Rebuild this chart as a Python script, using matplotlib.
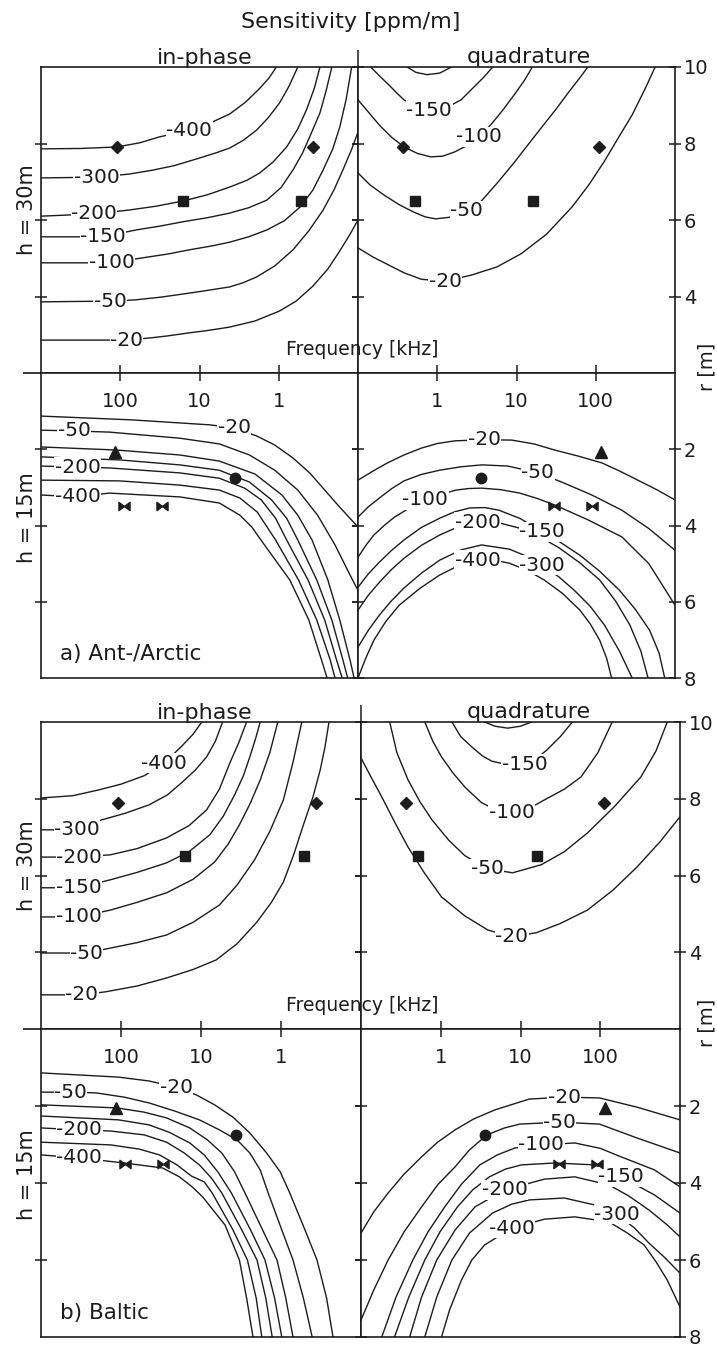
import numpy as np
import matplotlib.pyplot as plt
from matplotlib.path import Path
from matplotlib.ticker import NullLocator, FixedLocator

plt.rcParams['font.family'] = 'DejaVu Sans'
INK = '#1c1c1c'

# Each trace: (level [ppm/m], log10(f / kHz), r [m], index of the inline label or None)

# ---------------- a) Ant-/Arctic ----------------
a_ip_30 = [
    (-400, [3.0, 2.5, 2.04, 1.75, 1.51, 1.13, 0.85, 0.62, 0.42, 0.25, 0.12, 0.03],
           [7.86, 7.87, 7.91, 8.02, 8.17, 8.35, 8.55, 8.77, 9.08, 9.42, 9.72, 10.0], 5),
    (-300, [3.0, 2.30, 1.89, 1.60, 1.32, 1.0, 0.80, 0.62, 0.45, 0.28, 0.13, -0.01, -0.13, -0.24],
           [7.10, 7.12, 7.20, 7.30, 7.42, 7.62, 7.75, 7.88, 8.08, 8.35, 8.68, 9.06, 9.50, 10.0], 1),
    (-200, [3.0, 2.33, 1.89, 1.55, 1.20, 0.90, 0.62, 0.40, 0.24, 0.07, -0.10, -0.24, -0.35, -0.45, -0.52],
           [6.10, 6.16, 6.26, 6.36, 6.50, 6.66, 6.86, 7.04, 7.23, 7.52, 7.91, 8.38, 8.88, 9.45, 10.0], 1),
    (-150, [3.0, 2.22, 1.80, 1.50, 1.22, 0.90, 0.62, 0.38, 0.15, -0.03, -0.18, -0.30, -0.39, -0.52, -0.60, -0.67],
           [5.56, 5.56, 5.74, 5.84, 5.95, 6.06, 6.18, 6.32, 6.52, 6.85, 7.31, 7.75, 8.17, 8.80, 9.40, 10.0], 1),
    (-100, [3.0, 2.11, 1.72, 1.40, 1.13, 0.85, 0.62, 0.38, 0.15, -0.07, -0.27, -0.43, -0.56, -0.68, -0.77, -0.85, -0.92],
           [4.88, 4.88, 5.01, 5.11, 5.22, 5.32, 5.42, 5.56, 5.74, 5.98, 6.34, 6.78, 7.31, 7.85, 8.43, 9.15, 10.0], 1),
    (-50, [3.0, 2.13, 1.82, 1.50, 1.19, 0.90, 0.62, 0.45, 0.28, 0.05, -0.18, -0.38, -0.56, -0.70, -0.81, -0.92, -1.0],
          [3.86, 3.88, 3.91, 3.98, 4.07, 4.16, 4.25, 4.36, 4.51, 4.80, 5.22, 5.72, 6.26, 6.80, 7.31, 7.85, 8.30], 1),
    (-20, [3.0, 1.92, 1.61, 1.40, 1.13, 0.90, 0.62, 0.30, -0.01, -0.22, -0.43, -0.62, -0.77, -0.90, -1.0],
          [2.86, 2.86, 2.92, 2.97, 3.05, 3.11, 3.20, 3.36, 3.62, 3.88, 4.27, 4.72, 5.19, 5.63, 6.0], 1),
]
a_q_30 = [
    (-200, [-0.38, -0.27, -0.13, 0.03, 0.18],
           [10.0, 9.86, 9.80, 9.84, 10.0], None),
    (-150, [-0.84, -0.72, -0.61, -0.50, -0.42, -0.25, -0.10, 0.10, 0.30, 0.45, 0.59, 0.70],
           [10.0, 9.75, 9.53, 9.30, 9.14, 8.95, 8.87, 8.92, 9.14, 9.45, 9.74, 10.0], 6),
    (-100, [-1.0, -0.86, -0.73, -0.58, -0.42, -0.25, -0.08, 0.07, 0.22, 0.38, 0.53, 0.68, 0.83, 0.97, 1.10, 1.20],
           [9.14, 8.80, 8.48, 8.17, 7.91, 7.74, 7.65, 7.67, 7.78, 7.95, 8.18, 8.50, 8.88, 9.27, 9.65, 10.0], 10),
    (-50, [-1.0, -0.85, -0.67, -0.48, -0.29, -0.15, -0.02, 0.15, 0.37, 0.55, 0.75, 0.97, 1.15, 1.32, 1.50, 1.65, 1.80, 1.90],
          [7.23, 6.92, 6.65, 6.40, 6.20, 6.08, 6.03, 6.07, 6.24, 6.48, 6.95, 7.50, 7.98, 8.43, 8.90, 9.32, 9.72, 10.0], 8),
    (-20, [-1.0, -0.80, -0.61, -0.42, -0.20, 0.10, 0.43, 0.75, 1.06, 1.38, 1.70, 1.92, 2.11, 2.30, 2.46, 2.62, 2.75],
          [5.27, 5.02, 4.82, 4.62, 4.45, 4.40, 4.56, 4.77, 5.12, 5.63, 6.34, 6.94, 7.54, 8.20, 8.75, 9.42, 10.0], 5),
]
a_ip_15 = [
    (-20, [3.0, 1.85, 0.87, 0.56, 0.28, 0.05, -0.18, -0.39, -0.58, -0.77, -1.0],
          [1.13, 1.23, 1.36, 1.44, 1.65, 1.89, 2.23, 2.62, 3.07, 3.52, 4.04], 3),
    (-50, [3.0, 2.58, 2.14, 1.25, 0.75, 0.37, 0.05, -0.24, -0.49, -0.71, -0.90, -1.0],
          [1.50, 1.52, 1.55, 1.71, 1.86, 2.15, 2.55, 3.07, 3.73, 4.51, 5.30, 5.70], 1),
    (-100, [3.0, 2.05, 1.25, 0.75, 0.30, -0.04, -0.24, -0.42, -0.62, -0.77, -0.90, -0.95],
           [1.94, 2.02, 2.15, 2.31, 2.65, 3.20, 3.73, 4.38, 5.43, 6.48, 7.53, 8.0], None),
    (-150, [3.0, 2.01, 1.25, 0.75, 0.37, 0.09, -0.10, -0.24, -0.48, -0.67, -0.81, -0.87],
           [2.20, 2.28, 2.41, 2.55, 2.86, 3.33, 3.81, 4.38, 5.43, 6.48, 7.53, 8.0], None),
    (-200, [3.0, 2.54, 2.14, 1.25, 0.75, 0.43, 0.22, 0.04, -0.10, -0.37, -0.58, -0.73, -0.80],
           [2.44, 2.47, 2.49, 2.62, 2.76, 3.02, 3.33, 3.81, 4.38, 5.43, 6.48, 7.53, 8.0], 1),
    (-300, [3.0, 2.01, 1.25, 0.75, 0.49, 0.27, 0.04, -0.25, -0.48, -0.65, -0.71],
           [2.81, 2.83, 2.94, 3.07, 3.28, 3.65, 4.38, 5.43, 6.48, 7.53, 8.0], None),
    (-400, [3.0, 2.54, 2.14, 1.25, 0.75, 0.49, 0.34, 0.18, -0.14, -0.38, -0.54, -0.61],
           [3.20, 3.25, 3.15, 3.25, 3.41, 3.73, 4.04, 4.51, 5.43, 6.48, 7.53, 8.0], 1),
]
a_q_15 = [
    (-20, [-1.0, -0.80, -0.63, -0.42, -0.20, 0.0, 0.22, 0.59, 0.94, 1.22, 1.48, 1.78, 2.08, 2.30, 2.53, 2.77, 3.0],
          [2.81, 2.56, 2.36, 2.15, 1.97, 1.85, 1.78, 1.75, 1.76, 1.86, 2.02, 2.18, 2.36, 2.57, 2.81, 3.06, 3.33], 7),
    (-50, [-1.0, -0.87, -0.73, -0.58, -0.42, -0.20, 0.03, 0.30, 0.56, 0.89, 1.27, 1.57, 1.95, 2.33, 2.67, 3.0],
          [3.78, 3.51, 3.28, 3.04, 2.83, 2.66, 2.55, 2.46, 2.41, 2.44, 2.62, 2.86, 3.20, 3.60, 4.08, 4.65], 10),
    (-100, [-1.0, -0.90, -0.80, -0.67, -0.54, -0.35, -0.15, 0.05, 0.24, 0.40, 0.56, 0.80, 1.04, 1.26, 1.48, 1.90, 2.33, 2.67, 3.0],
           [4.83, 4.52, 4.25, 4.0, 3.78, 3.54, 3.33, 3.18, 3.07, 3.03, 3.02, 3.06, 3.15, 3.29, 3.46, 3.85, 4.30, 5.0, 6.09], 6),
    (-150, [-1.0, -0.87, -0.73, -0.58, -0.42, -0.20, 0.03, 0.22, 0.41, 0.60, 0.78, 1.05, 1.32, 1.56, 1.80, 2.05, 2.30, 2.50, 2.68, 2.80, 2.87],
           [5.62, 5.27, 4.96, 4.66, 4.38, 4.05, 3.81, 3.64, 3.54, 3.53, 3.60, 3.82, 4.17, 4.45, 4.78, 5.20, 5.70, 6.20, 6.75, 7.35, 8.0], 12),
    (-200, [-1.0, -0.87, -0.73, -0.58, -0.42, -0.20, 0.03, 0.27, 0.51, 0.78, 1.04, 1.30, 1.54, 1.80, 2.05, 2.25, 2.43, 2.57, 2.66],
           [6.22, 5.83, 5.49, 5.16, 4.86, 4.52, 4.25, 4.03, 3.91, 3.93, 4.07, 4.30, 4.59, 4.98, 5.43, 5.98, 6.61, 7.30, 8.0], 8),
    (-300, [-1.0, -0.87, -0.73, -0.58, -0.42, -0.20, 0.03, 0.30, 0.56, 0.91, 1.12, 1.32, 1.53, 1.73, 1.93, 2.11, 2.30, 2.46],
           [7.19, 6.75, 6.35, 5.98, 5.64, 5.25, 4.91, 4.64, 4.51, 4.62, 4.80, 5.04, 5.34, 5.70, 6.12, 6.61, 7.30, 8.0], 11),
    (-400, [-1.0, -0.90, -0.80, -0.65, -0.48, -0.22, 0.03, 0.27, 0.51, 0.71, 0.91, 1.13, 1.35, 1.58, 1.80, 1.93, 2.05, 2.14, 2.20],
           [8.0, 7.47, 7.01, 6.52, 6.09, 5.65, 5.30, 5.05, 4.91, 4.90, 4.99, 5.17, 5.43, 5.78, 6.22, 6.58, 7.01, 7.50, 8.0], 8),
]

# ---------------- b) Baltic ----------------
b_ip_30 = [
    (-400, [3.0, 2.6, 2.28, 2.0, 1.71, 1.46, 1.25, 1.10, 0.99],
           [8.02, 8.08, 8.23, 8.38, 8.60, 8.93, 9.35, 9.68, 10.0], 5),
    (-300, [3.0, 2.55, 2.24, 1.95, 1.65, 1.42, 1.23, 1.07, 0.93, 0.82, 0.73],
           [7.19, 7.19, 7.45, 7.62, 7.84, 8.10, 8.44, 8.75, 9.09, 9.50, 10.0], 1),
    (-200, [3.0, 2.52, 2.13, 1.80, 1.43, 1.15, 0.93, 0.77, 0.64, 0.53, 0.43],
           [6.48, 6.48, 6.54, 6.70, 6.98, 7.30, 7.71, 8.25, 8.93, 9.45, 10.0], 1),
    (-150, [3.0, 2.53, 2.13, 1.80, 1.43, 1.15, 0.89, 0.72, 0.58, 0.47, 0.39, 0.32, 0.26],
           [5.68, 5.68, 5.89, 6.08, 6.33, 6.62, 7.06, 7.55, 8.10, 8.60, 9.09, 9.55, 10.0], 1),
    (-100, [3.0, 2.53, 2.13, 1.80, 1.43, 1.10, 0.83, 0.66, 0.52, 0.38, 0.26, 0.14, 0.04],
           [4.92, 4.92, 5.10, 5.30, 5.55, 5.90, 6.35, 6.82, 7.32, 7.90, 8.49, 9.20, 10.0], 1),
    (-50, [3.0, 2.43, 2.13, 1.80, 1.43, 1.10, 0.77, 0.55, 0.33, 0.14, -0.03, -0.15, -0.26],
          [3.98, 3.98, 4.11, 4.25, 4.45, 4.78, 5.23, 5.75, 6.41, 7.15, 7.97, 8.95, 10.0], 1),
    (-20, [3.0, 2.49, 2.19, 1.80, 1.43, 1.10, 0.81, 0.55, 0.30, 0.12, -0.03, -0.16, -0.28, -0.40, -0.49, -0.55, -0.60],
          [2.89, 2.89, 2.97, 3.12, 3.33, 3.55, 3.80, 4.22, 4.79, 5.30, 5.83, 6.55, 7.32, 8.05, 8.75, 9.35, 10.0], 1),
]
b_q_30 = [
    (-200, [0.55, 0.68, 0.84, 1.0, 1.14],
           [10.0, 9.89, 9.84, 9.89, 10.0], None),
    (-150, [0.14, 0.25, 0.39, 0.52, 0.64, 0.85, 1.05, 1.20, 1.33, 1.50, 1.65],
           [10.0, 9.62, 9.35, 9.12, 8.98, 8.88, 8.90, 9.05, 9.27, 9.62, 10.0], 6),
    (-100, [-0.20, -0.10, 0.01, 0.15, 0.30, 0.51, 0.70, 0.89, 1.10, 1.30, 1.55, 1.76, 1.97, 2.15],
           [10.0, 9.50, 9.09, 8.68, 8.31, 7.90, 7.70, 7.64, 7.74, 7.97, 8.25, 8.57, 9.20, 10.0], 7),
    (-50, [-0.64, -0.55, -0.41, -0.26, -0.11, 0.10, 0.30, 0.58, 0.90, 1.26, 1.55, 1.84, 2.18, 2.51, 2.70, 2.84],
          [10.0, 9.20, 8.49, 7.92, 7.45, 6.92, 6.52, 6.18, 6.07, 6.28, 6.62, 7.11, 7.80, 8.57, 9.25, 10.0], 7),
    (-20, [-1.0, -0.87, -0.74, -0.58, -0.41, -0.20, 0.01, 0.30, 0.59, 0.89, 1.20, 1.50, 1.84, 2.16, 2.46, 2.75, 3.0],
          [9.06, 8.55, 8.05, 7.40, 6.74, 6.05, 5.44, 4.95, 4.58, 4.40, 4.51, 4.75, 5.10, 5.62, 6.22, 6.88, 7.53], 9),
]
b_ip_15 = [
    (-20, [3.0, 2.03, 1.65, 1.31, 1.06, 0.83, 0.60, 0.39, 0.18, 0.01, -0.11, -0.30, -0.45, -0.57, -0.65],
          [1.14, 1.25, 1.35, 1.51, 1.71, 1.97, 2.29, 2.70, 3.22, 3.71, 4.26, 5.22, 6.0, 6.99, 8.0], 3),
    (-50, [3.0, 2.63, 2.31, 1.96, 1.65, 1.33, 1.02, 0.77, 0.55, 0.39, 0.26, 0.16, -0.01, -0.15, -0.28, -0.39],
          [1.64, 1.64, 1.66, 1.77, 1.92, 2.13, 2.36, 2.62, 2.88, 3.22, 3.66, 4.26, 5.22, 6.0, 6.99, 8.0], 1),
    (-100, [3.0, 2.05, 1.71, 1.43, 1.14, 0.92, 0.74, 0.58, 0.45, 0.23, 0.05, -0.06, -0.15],
           [1.97, 2.05, 2.16, 2.31, 2.57, 2.88, 3.22, 3.71, 4.26, 5.22, 6.0, 6.99, 8.0], None),
    (-150, [3.0, 2.03, 1.65, 1.40, 1.14, 0.96, 0.79, 0.62, 0.38, 0.20, 0.08, -0.01],
           [2.26, 2.36, 2.49, 2.68, 2.96, 3.27, 3.71, 4.26, 5.22, 6.0, 6.99, 8.0], None),
    (-200, [3.0, 2.52, 2.13, 1.71, 1.43, 1.21, 1.02, 0.87, 0.74, 0.49, 0.30, 0.19, 0.11],
           [2.57, 2.62, 2.65, 2.75, 2.94, 3.22, 3.53, 3.87, 4.26, 5.22, 6.0, 6.99, 8.0], 1),
    (-300, [3.0, 2.13, 1.77, 1.52, 1.30, 1.12, 0.96, 0.86, 0.60, 0.42, 0.31, 0.24],
           [2.94, 3.01, 3.12, 3.27, 3.53, 3.82, 3.97, 4.26, 5.22, 6.0, 6.99, 8.0], None),
    (-400, [3.0, 2.52, 1.96, 1.48, 1.27, 1.11, 0.98, 0.70, 0.52, 0.43, 0.35],
           [3.27, 3.35, 3.48, 3.61, 3.84, 4.10, 4.36, 5.09, 6.0, 6.99, 8.0], 1),
]
b_q_15 = [
    (-20, [-1.0, -0.84, -0.66, -0.46, -0.24, -0.04, 0.18, 0.41, 0.68, 1.11, 1.55, 1.99, 2.46, 3.0],
          [5.30, 4.75, 4.26, 3.77, 3.32, 2.94, 2.62, 2.34, 2.10, 1.82, 1.77, 1.79, 2.03, 2.36], 10),
    (-50, [-1.0, -0.84, -0.66, -0.46, -0.24, -0.04, 0.18, 0.36, 0.58, 0.80, 0.99, 1.49, 1.99, 2.46, 3.0],
          [7.56, 6.78, 6.0, 5.27, 4.62, 4.05, 3.58, 3.14, 2.75, 2.57, 2.47, 2.42, 2.47, 2.83, 3.22], 11),
    (-100, [-0.74, -0.56, -0.35, -0.16, 0.05, 0.26, 0.49, 0.71, 0.93, 1.26, 1.68, 2.0, 2.26, 2.68, 3.0],
           [8.0, 6.96, 6.0, 5.27, 4.62, 4.03, 3.53, 3.27, 3.09, 3.01, 2.96, 3.10, 3.32, 3.66, 4.10], 9),
    (-150, [-0.58, -0.40, -0.20, -0.01, 0.21, 0.40, 0.61, 0.81, 1.01, 1.43, 1.93, 2.26, 2.68, 3.0],
           [8.0, 6.96, 6.0, 5.27, 4.62, 4.18, 3.84, 3.64, 3.53, 3.48, 3.53, 3.84, 4.31, 4.78], 11),
    (-200, [-0.39, -0.24, -0.05, 0.18, 0.43, 0.80, 1.30, 1.68, 2.11, 2.36, 2.61, 2.84, 3.0],
           [8.0, 6.96, 6.0, 5.22, 4.62, 4.18, 3.90, 3.84, 4.05, 4.34, 4.70, 5.09, 5.40], 5),
    (-300, [-0.20, -0.05, 0.14, 0.36, 0.65, 0.89, 1.11, 1.55, 1.93, 2.21, 2.43, 2.61, 2.80, 3.0],
           [8.0, 6.96, 6.0, 5.30, 4.78, 4.55, 4.44, 4.39, 4.57, 4.81, 5.17, 5.56, 5.92, 6.34], 9),
    (-400, [0.01, 0.11, 0.26, 0.39, 0.55, 0.89, 1.30, 1.68, 2.11, 2.34, 2.55, 2.70, 2.84, 3.0],
           [8.0, 7.30, 6.52, 6.0, 5.61, 5.17, 4.94, 4.88, 5.01, 5.30, 5.61, 6.05, 6.52, 7.22], 5),
]

# survey points (same in both regions): frequency [kHz], r [m]
diamond_f, diamond_r = [110, 0.37], 7.9
square_f, square_r = [16, 0.52], 6.5
triangle_f, triangle_r = [115], 2.06
circle_f, circle_r = [3.6], 2.75
bowtie_f, bowtie_r = [30, 90], 3.5

freq_ticks = [1, 10, 100]

W, H = 717, 1347
fig = plt.figure(figsize=(W / 100, H / 100), dpi=100)

BOWTIE = Path([(-1, -0.75), (-1, 0.75), (0, 0), (1, 0.75), (1, -0.75), (0, 0), (-1, -0.75)],
              [Path.MOVETO, Path.LINETO, Path.LINETO, Path.LINETO, Path.LINETO, Path.LINETO,
               Path.CLOSEPOLY])


def axes_at(x0, y0, x1, y1):
    return fig.add_axes([x0 / W, 1 - y1 / H, (x1 - x0) / W, (y1 - y0) / H])


def draw_traces(ax, traces):
    for level, lf, r, lab in traces:
        f = 10.0 ** np.asarray(lf)
        ax.plot(f, r, color=INK, lw=1.0, zorder=2, solid_joinstyle='round')
        if lab is not None:
            ax.text(f[lab], r[lab], f'{level}', ha='center', va='center', fontsize=14.5,
                    color=INK, zorder=3,
                    bbox=dict(boxstyle='square,pad=0.02', fc='white', ec='none'))


def draw_markers(ax, upper):
    kw = dict(color=INK, ls='none', zorder=4, clip_on=False)
    if upper:
        ax.plot(diamond_f, [diamond_r] * 2, marker='D', ms=6, **kw)
        ax.plot(square_f, [square_r] * 2, marker='s', ms=7.5, **kw)
    else:
        ax.plot(triangle_f, [triangle_r], marker='^', ms=8, **kw)
        ax.plot(circle_f, [circle_r], marker='o', ms=7.5, **kw)
        ax.plot(bowtie_f, [bowtie_r] * 2, marker=BOWTIE, ms=8, **kw)


def style(ax, xlim, ylim):
    ax.set_xscale('log')
    ax.set_xlim(*xlim)
    ax.set_ylim(*ylim)
    ax.xaxis.set_minor_locator(NullLocator())
    ax.yaxis.set_minor_locator(NullLocator())
    ax.set_xticks([])
    for s in ax.spines.values():
        s.set_linewidth(1.2)
        s.set_color(INK)
    ax.tick_params(colors=INK, width=1.1, labelsize=14)


def panel(box, quads, tag):
    x0, ytop, xc, ymid, x1, ybot = box
    ip30, q30, ip15, q15 = quads
    tl = axes_at(x0, ytop, xc, ymid)
    tr = axes_at(xc, ytop, x1, ymid)
    bl = axes_at(x0, ymid, xc, ybot)
    br = axes_at(xc, ymid, x1, ybot)

    style(tl, (1000, 0.1), (2, 10))
    style(tr, (0.1, 1000), (2, 10))
    style(bl, (1000, 0.1), (8, 0))
    style(br, (0.1, 1000), (8, 0))

    # r ticks on the outer frame and on the centre line
    for ax, ticks in ((tl, [4, 6, 8]), (bl, [2, 4, 6])):
        ax.set_yticks(ticks)
        ax.tick_params(axis='y', left=True, right=True, direction='inout', length=9,
                       labelleft=False, labelright=False)
    for ax, ticks in ((tr, [4, 6, 8, 10]), (br, [2, 4, 6, 8])):
        ax.set_yticks(ticks)
        ax.tick_params(axis='y', left=True, right=True, direction='inout', length=9,
                       labelleft=False, labelright=True, pad=2)
    tl.yaxis.set_minor_locator(FixedLocator([2]))
    tl.tick_params(axis='y', which='minor', left=True, right=False, direction='out',
                   length=13, width=1.1)
    tr.set_xticks([0.1])
    tr.tick_params(axis='x', top=True, bottom=False, direction='out', length=12,
                   labeltop=False, labelbottom=False)

    # frequency axis along the middle line
    for ax in (bl, br):
        ax.set_xticks(freq_ticks)
        ax.tick_params(axis='x', top=True, bottom=False, direction='inout', length=11,
                       labeltop=False, labelbottom=False)
        for f in freq_ticks:
            ax.text(f, 0.908, f'{f:g}', transform=ax.get_xaxis_transform(),
                    ha='center', va='center', fontsize=14, color=INK)

    for ax, traces in ((tl, ip30), (tr, q30), (bl, ip15), (br, q15)):
        draw_traces(ax, traces)
    for ax in (tl, tr):
        draw_markers(ax, True)
    for ax in (bl, br):
        draw_markers(ax, False)

    fig.text(205 / W, 1 - (ytop - 3) / H, 'in-phase', ha='center', va='baseline',
             fontsize=16, color=INK)
    fig.text(529 / W, 1 - (ytop - 4) / H, 'quadrature', ha='center', va='baseline',
             fontsize=16, color=INK)
    fig.text(27 / W, 1 - ((ytop + ymid) / 2 - 10) / H, 'h = 30m', rotation=90,
             ha='center', va='center', fontsize=15, color=INK)
    fig.text(27 / W, 1 - ((ymid + ybot) / 2 - 8) / H, 'h = 15m', rotation=90,
             ha='center', va='center', fontsize=15, color=INK)
    fig.text(362 / W, 1 - (ymid - 18) / H, 'Frequency [kHz]', ha='center', va='baseline',
             fontsize=13.5, color=INK)
    fig.text(707 / W, 1 - (ymid - 6) / H, 'r [m]', rotation=90, ha='center', va='center',
             fontsize=14, color=INK)
    fig.text(60 / W, 1 - (ybot - 18) / H, tag, ha='left', va='baseline', fontsize=15.5,
             color=INK)


fig.text(351 / W, 1 - 28 / H, 'Sensitivity [ppm/m]', ha='center', va='baseline',
         fontsize=16, color=INK)

panel((41, 67, 358, 373, 675, 678), (a_ip_30, a_q_30, a_ip_15, a_q_15), 'a) Ant-/Arctic')
panel((41, 722, 361, 1029, 680, 1337), (b_ip_30, b_q_30, b_ip_15, b_q_15), 'b) Baltic')

fig.savefig('out.png', dpi=100)
